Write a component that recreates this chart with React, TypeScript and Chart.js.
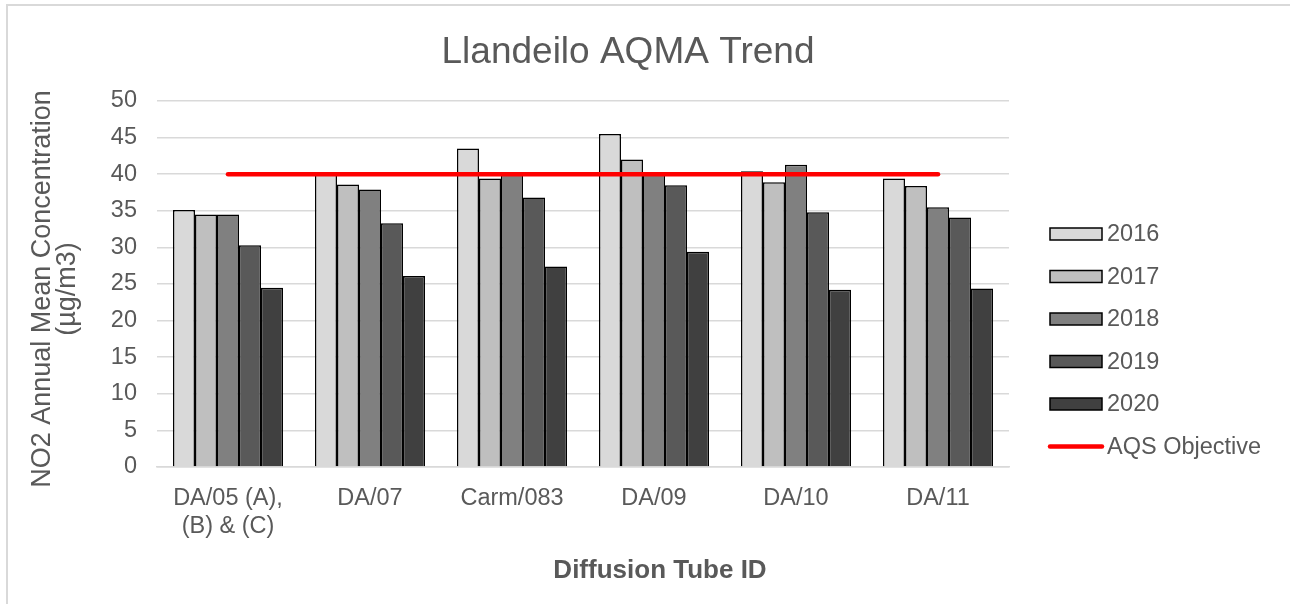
import React, { useEffect, useRef } from "react";
import { Chart, registerables } from "chart.js";

Chart.register(...registerables);

const categories: (string | string[])[] = [
  ["DA/05 (A),", "(B) & (C)"],
  "DA/07",
  "Carm/083",
  "DA/09",
  "DA/10",
  "DA/11",
];
const seriesNames = ["2016", "2017", "2018", "2019", "2020"];
const values2016 = [35.1, 40.0, 43.5, 45.5, 40.4, 39.4];
const values2017 = [34.5, 38.6, 39.4, 42.0, 38.9, 38.4];
const values2018 = [34.5, 37.9, 40.0, 40.0, 41.3, 35.5];
const values2019 = [30.3, 33.3, 36.8, 38.5, 34.8, 34.1];
const values2020 = [24.5, 26.1, 27.4, 29.4, 24.2, 24.4];
const objectiveName = "AQS Objective";
const objectiveValues = [40, 40, 40, 40, 40, 40];
const yMin = 0;
const yMax = 50;
const yStep = 5;
const xAxisTitle = "Diffusion Tube ID";
const yAxisTitle = ["NO2 Annual Mean Concentration", "(µg/m3)"];

const barColors = ["#d9d9d9", "#bfbfbf", "#808080", "#595959", "#404040"];
const FONT = "'Liberation Sans', Arial, sans-serif";
const TEXT = "#595959";

const legendPlugin = {
  id: "customLegend",
  afterDraw(chart: any) {
    const ctx = chart.ctx;
    const area = chart.chartArea;
    const x0 = area.right + 41;
    const boxW = 52;
    const boxH = 12;
    const startY = 234;
    const gap = 42.5;
    ctx.save();
    ctx.font = `23.5px ${FONT}`;
    ctx.textBaseline = "middle";
    ctx.textAlign = "left";
    chart.data.datasets.forEach((ds: any, i: number) => {
      const cy = startY + i * gap;
      if (ds.type === "line") {
        ctx.strokeStyle = ds.borderColor;
        ctx.lineWidth = 4.5;
        ctx.lineCap = "round";
        ctx.beginPath();
        ctx.moveTo(x0, cy);
        ctx.lineTo(x0 + boxW, cy);
        ctx.stroke();
      } else {
        ctx.fillStyle = ds.backgroundColor;
        ctx.fillRect(x0, cy - boxH / 2, boxW, boxH);
        ctx.strokeStyle = "#000";
        ctx.lineWidth = 1.5;
        ctx.strokeRect(x0, cy - boxH / 2, boxW, boxH);
      }
      ctx.fillStyle = TEXT;
      ctx.fillText(ds.label, x0 + boxW + 5, cy + 1);
    });
    // x axis title (offset to the right as in the source chart)
    ctx.font = `bold 26px ${FONT}`;
    ctx.textAlign = "center";
    ctx.textBaseline = "middle";
    ctx.fillStyle = TEXT;
    ctx.fillText(xAxisTitle, area.left + 503, area.bottom + 104);
    // y axis title, rotated, two lines
    ctx.font = `27px ${FONT}`;
    const cy = (area.top + area.bottom) / 2 + 5;
    yAxisTitle.forEach((line, i) => {
      ctx.save();
      ctx.translate(43 + i * 24.5, cy);
      ctx.rotate(-Math.PI / 2);
      ctx.fillText(line, 0, 0);
      ctx.restore();
    });
    ctx.restore();
  },
};

export default function App() {
  const ref = useRef<HTMLCanvasElement | null>(null);

  useEffect(() => {
    if (!ref.current) return;
    const seriesValues = [values2016, values2017, values2018, values2019, values2020];
    const barSets = seriesNames.map((name, i) => ({
      type: "bar" as const,
      label: name,
      data: seriesValues[i],
      backgroundColor: barColors[i],
      borderColor: "#000000",
      borderWidth: 1.5,
      categoryPercentage: 0.775,
      barPercentage: 1,
      order: 1,
    }));
    const chart = new Chart(ref.current, {
      type: "bar",
      data: {
        labels: categories,
        datasets: [
          ...barSets,
          {
            type: "line" as const,
            label: objectiveName,
            data: objectiveValues,
            borderColor: "#ff0000",
            backgroundColor: "#ff0000",
            borderWidth: 4.5,
            borderCapStyle: "round",
            pointRadius: 0,
            fill: false,
            order: 0,
          } as any,
        ],
      },
      options: {
        responsive: false,
        animation: false,
        layout: { padding: { top: 0, left: 0, right: 34, bottom: 0 } },
        plugins: {
          legend: { display: false },
          tooltip: { enabled: false },
          title: {
            display: true,
            text: "Llandeilo AQMA Trend",
            color: TEXT,
            font: { family: FONT, size: 37, weight: "normal", lineHeight: 1.2 },
            padding: { top: 30.5, bottom: 26.1 },
          },
        },
        scales: {
          x: {
            grid: { display: false, drawTicks: false },
            border: { display: true, color: "#d9d9d9", width: 1.5 },
            ticks: {
              color: TEXT,
              font: { family: FONT, size: 23.5, lineHeight: 1.2 },
              padding: 17,
              maxRotation: 0,
              autoSkip: false,
            },
            title: { display: false },
            afterFit: (scale: any) => {
              scale.height = 137;
            },
          } as any,
          y: {
            min: yMin,
            max: yMax,
            grid: { color: "#d9d9d9", lineWidth: 1.5, drawTicks: false },
            border: { display: false },
            ticks: {
              stepSize: yStep,
              color: TEXT,
              font: { family: FONT, size: 23.5, lineHeight: 1.2 },
              padding: 20,
            },
            title: { display: false },
            afterFit: (scale: any) => {
              scale.width = 157;
            },
          } as any,
          legendSpace: {
            type: "linear",
            position: "right",
            display: true,
            grid: { display: false, drawTicks: false },
            border: { display: false },
            ticks: { display: false },
            afterFit: (scale: any) => {
              scale.width = 247;
            },
          } as any,
        },
      },
      plugins: [legendPlugin],
    });
    return () => chart.destroy();
  }, []);

  return (
    <div
      style={{
        position: "absolute",
        left: 0,
        top: 0,
        width: 1290,
        height: 604,
        overflow: "hidden",
        background: "#ffffff",
      }}
    >
      <div
        style={{
          position: "absolute",
          left: 6,
          top: 4,
          width: 1400,
          height: 700,
          border: "2px solid #d9d9d9",
        }}
      />
      <canvas
        ref={ref}
        width={1290}
        height={604}
        style={{ position: "absolute", left: 0, top: 0, width: 1290, height: 604 }}
      />
    </div>
  );
}
